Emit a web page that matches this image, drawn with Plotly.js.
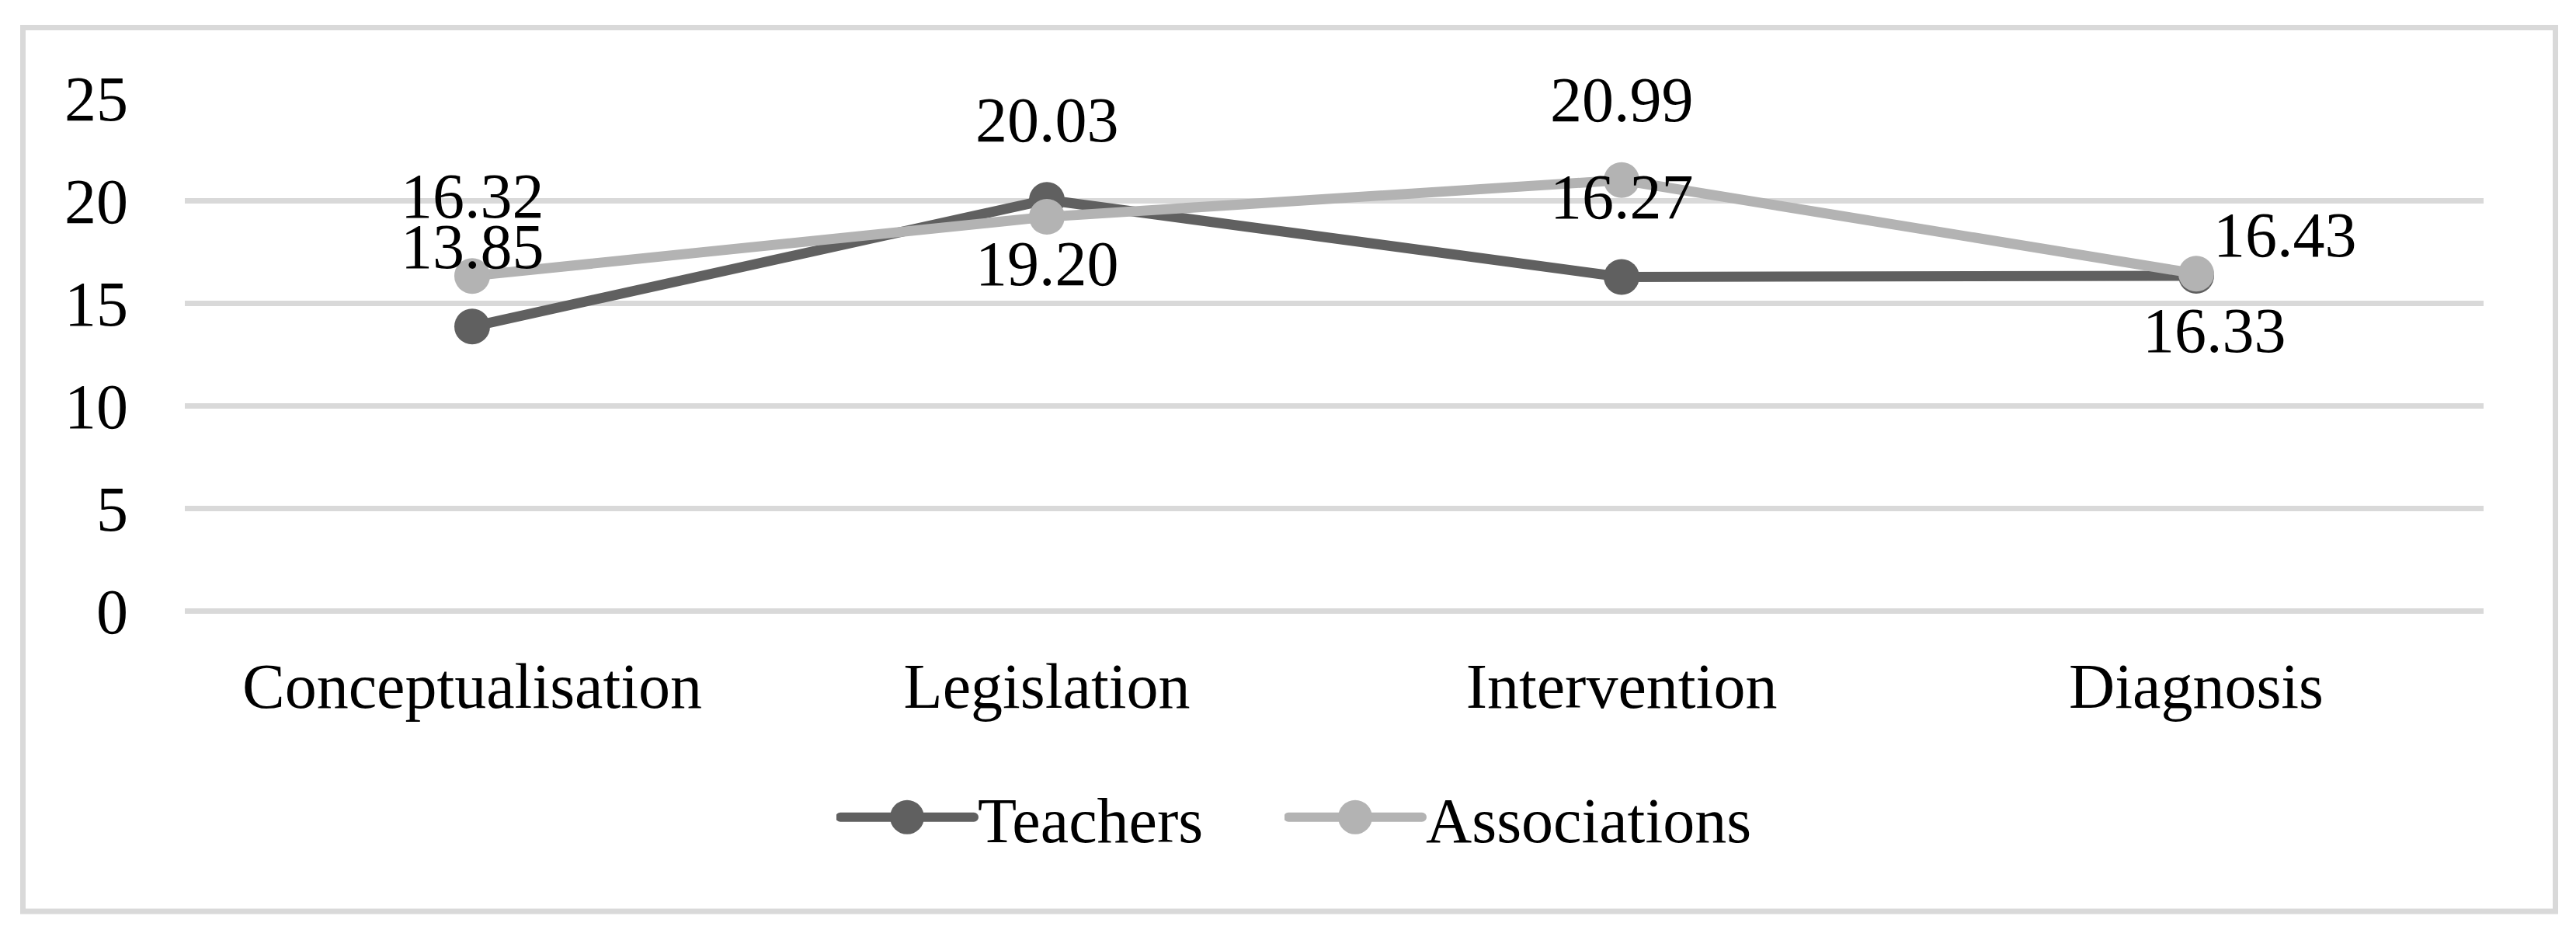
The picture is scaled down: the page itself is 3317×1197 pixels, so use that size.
<!DOCTYPE html>
<html><head><meta charset="utf-8">
<script src="https://cdn.plot.ly/plotly-3.0.1.min.js"></script>
<style>html,body{margin:0;padding:0;background:#fff;} #chart{width:3317px;height:1197px;}</style>
</head><body><div id="chart"></div>
<script>
// ---- data ----
const categories = ['Conceptualisation', 'Legislation', 'Intervention', 'Diagnosis'];
const seriesNames = ['Teachers', 'Associations'];
const teachers = [13.85, 20.03, 16.27, 16.33];
const associations = [16.32, 19.20, 20.99, 16.43];
const yTickVals = [0, 5, 10, 15, 20, 25];

// ---- styling (positions / sizes / colours kept apart from data) ----
const FONT = 'Liberation Serif, "Times New Roman", Times, serif';
const FS = 82;
const colors = ['#606060', '#b3b3b3'];
// pixel shifts of each data label relative to its point [xshift, yshift]
const labelShifts = [
  [[0, 103], [0, 103], [0, 103], [23, -71]],
  [[0, 103], [0, -60], [0, 103], [114, 50]]
];
const legendIds = ['legend', 'legend2'];
const legendLeftPx = [1077, 1654];

const seriesValues = [teachers, associations];

const traces = seriesValues.map((vals, i) => ({
  type: 'scatter', mode: 'lines+markers',
  name: seriesNames[i], x: categories, y: vals,
  legend: legendIds[i],
  line: {color: colors[i], width: 13},
  marker: {color: colors[i], size: 46},
  hoverinfo: 'x+y'
}));

const annotations = [];
seriesValues.forEach((vals, i) => {
  vals.forEach((v, j) => {
    annotations.push({
      x: categories[j], y: v, xref: 'x', yref: 'y',
      text: v.toFixed(2), showarrow: false,
      xshift: labelShifts[i][j][0], yshift: labelShifts[i][j][1],
      xanchor: 'center', yanchor: 'middle',
      font: {family: FONT, size: FS, color: '#000'}
    });
  });
});

const L = 238, R = 119, T = 126, B = 411;
const W = 3317, H = 1197;
const pw = W - L - R, ph = H - T - B;
// chart border as a shape in paper coords
const px = v => (v - L) / pw, py = v => (H - B - v) / ph;

const legendStyle = (left) => ({
  orientation: 'h', xref: 'container', yref: 'container',
  x: left / W, xanchor: 'left', y: 1 - 1052 / H, yanchor: 'middle',
  itemwidth: 172, font: {family: FONT, size: FS, color: '#000'},
  bgcolor: 'rgba(0,0,0,0)'
});

const layout = {
  width: W, height: H,
  margin: {l: L, r: R, t: T, b: B, pad: 0},
  paper_bgcolor: '#fff', plot_bgcolor: 'rgba(0,0,0,0)',
  font: {family: FONT, size: FS, color: '#000'},
  showlegend: true,
  legend: legendStyle(legendLeftPx[0]),
  legend2: legendStyle(legendLeftPx[1]),
  xaxis: {
    type: 'category', range: [-0.5, 3.5], showgrid: false, zeroline: false,
    showline: false, ticks: '', ticklabelstandoff: 42,
    tickfont: {family: FONT, size: FS, color: '#000'}, fixedrange: true
  },
  yaxis: {
    range: [0, 25], tickvals: yTickVals, showgrid: true, gridcolor: '#d9d9d9', gridwidth: 7,
    zeroline: true, zerolinecolor: '#d9d9d9', zerolinewidth: 7, showline: false, ticks: '',
    ticklabelstandoff: 72, tickfont: {family: FONT, size: FS, color: '#000'}, fixedrange: true
  },
  annotations: annotations,
  shapes: [{
    type: 'rect', xref: 'paper', yref: 'paper', layer: 'below',
    x0: px(29.5), x1: px(3290.5), y0: py(1173), y1: py(35.5),
    line: {color: '#d9d9d9', width: 7}, fillcolor: 'rgba(0,0,0,0)'
  }]
};

Plotly.newPlot('chart', traces, layout, {staticPlot: true}).then(() => {
  // enlarge legend symbols (both legends) to match the series styling
  document.querySelectorAll('.infolayer .traces').forEach((g) => {
    g.querySelectorAll('.legendlines path').forEach(p => {
      p.style.strokeWidth = '12px';
      p.style.strokeLinecap = 'round';
    });
    g.querySelectorAll('.legendpoints path.scatterpts').forEach(p => {
      const r = 22;
      p.setAttribute('d', `M${r},0A${r},${r} 0 1,1 0,-${r}A${r},${r} 0 0,1 ${r},0Z`);
    });
  });
});
</script>
</body></html>
